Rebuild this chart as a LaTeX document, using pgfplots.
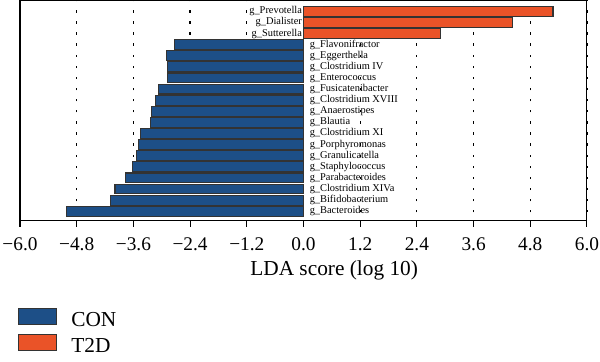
\documentclass[border=0pt]{standalone}
\usepackage{pgfplots}
\pgfplotsset{compat=1.18}
\usepackage{fontspec}
\setmainfont{Liberation Serif}
\definecolor{conblue}{RGB}{29,79,135}
\definecolor{t2dorange}{RGB}{234,83,40}
\newcommand\labfont{\fontsize{7.8}{8}\selectfont}
\begin{document}
\begin{tikzpicture}
\useasboundingbox (-15pt,-105.75pt) rectangle (435pt,165pt);
\begin{axis}[
  scale only axis, width=425.25pt, height=165pt,
  xmin=-6, xmax=6, ymin=-0.79, ymax=19.02,
  xbar, bar width=7.4pt, bar shift=0pt,
  xtick={-6,-4.8,-3.6,-2.4,-1.2,0,1.2,2.4,3.6,4.8,6},
  xticklabels={−6.0,−4.8,−3.6,−2.4,−1.2,0.0,1.2,2.4,3.6,4.8,6.0},
  ytick=\empty,
  xtick pos=bottom, tick align=outside, major tick length=5pt,
  ticklabel style={font=\fontsize{14.5}{14.5}\selectfont},
  xticklabel shift=5pt,
  xlabel={LDA score (log 10)},
  xlabel style={font=\fontsize{16}{16}\selectfont, xshift=23pt},
  axis line style={line width=0.75pt},
  every tick/.style={black, line width=0.75pt},
  xmajorgrids,
  grid style={black, line width=0.9pt, dash pattern=on 1.8pt off 6.529pt, dash phase=2.65pt},
  clip=false,
  legend style={at={(axis description cs:-0.0035,-0.40)}, anchor=north west,
    draw=none, fill=none, inner sep=0pt, row sep=4.5pt, column sep=10.5pt,
    font=\fontsize{16}{16}\selectfont, nodes={inner sep=0pt}},
  legend cell align=left,
  legend image code/.code={\draw[#1] (0pt,-3.2pt) rectangle (28.5pt,8.6pt);},
]
\addplot[fill=conblue, draw=black!80, line width=0.8pt] coordinates {
  (-5.02,0) (-4.08,1) (-3.99,2) (-3.77,3) (-3.62,4) (-3.54,5) (-3.49,6)
  (-3.44,7) (-3.24,8) (-3.21,9) (-3.13,10) (-3.06,11) (-2.87,12)
  (-2.87,13) (-2.89,14) (-2.74,15)};
\addlegendentry{CON}
\addplot[fill=t2dorange, draw=black!80, line width=0.8pt] coordinates {
  (2.90,16) (4.43,17) (5.28,18)};
\addlegendentry{T2D}
\begin{scope}[every node/.style={font=\labfont, inner sep=0pt}]
\node[anchor=east, xshift=-1pt] at (axis cs:0,18) {g\_Prevotella};
\node[anchor=east, xshift=-1pt] at (axis cs:0,17) {g\_Dialister};
\node[anchor=east, xshift=-1pt] at (axis cs:0,16) {g\_Sutterella};
\node[anchor=west, xshift=4.5pt] at (axis cs:0,15) {g\_Flavonifractor};
\node[anchor=west, xshift=4.5pt] at (axis cs:0,14) {g\_Eggerthella};
\node[anchor=west, xshift=4.5pt] at (axis cs:0,13) {g\_Clostridium IV};
\node[anchor=west, xshift=4.5pt] at (axis cs:0,12) {g\_Enterococcus};
\node[anchor=west, xshift=4.5pt] at (axis cs:0,11) {g\_Fusicatenibacter};
\node[anchor=west, xshift=4.5pt] at (axis cs:0,10) {g\_Clostridium XVIII};
\node[anchor=west, xshift=4.5pt] at (axis cs:0,9) {g\_Anaerostipes};
\node[anchor=west, xshift=4.5pt] at (axis cs:0,8) {g\_Blautia};
\node[anchor=west, xshift=4.5pt] at (axis cs:0,7) {g\_Clostridium XI};
\node[anchor=west, xshift=4.5pt] at (axis cs:0,6) {g\_Porphyromonas};
\node[anchor=west, xshift=4.5pt] at (axis cs:0,5) {g\_Granulicatella};
\node[anchor=west, xshift=4.5pt] at (axis cs:0,4) {g\_Staphylococcus};
\node[anchor=west, xshift=4.5pt] at (axis cs:0,3) {g\_Parabacteroides};
\node[anchor=west, xshift=4.5pt] at (axis cs:0,2) {g\_Clostridium XIVa};
\node[anchor=west, xshift=4.5pt] at (axis cs:0,1) {g\_Bifidobacterium};
\node[anchor=west, xshift=4.5pt] at (axis cs:0,0) {g\_Bacteroides};
\end{scope}
\end{axis}
\end{tikzpicture}
\end{document}
